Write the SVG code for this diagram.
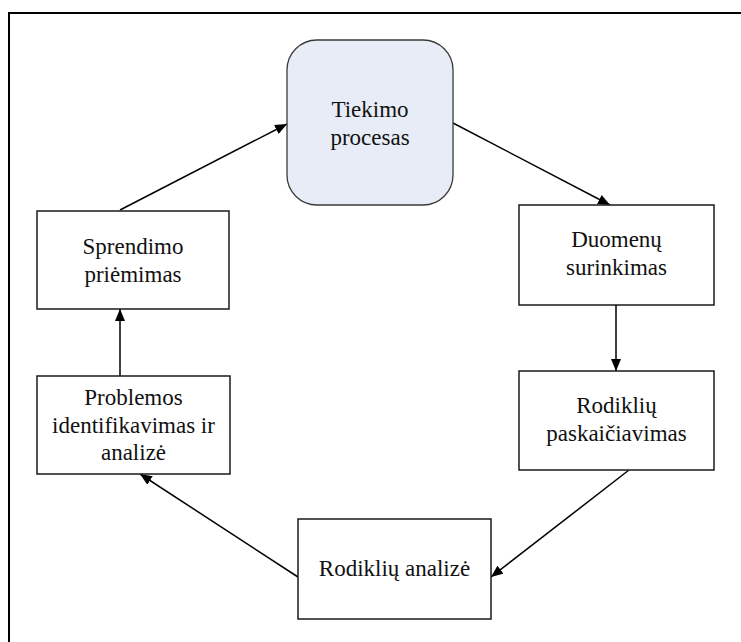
<svg xmlns="http://www.w3.org/2000/svg" width="741" height="642" viewBox="0 0 741 642">
  <style>
    .box { fill: #ffffff; stroke: #1a1a1a; stroke-width: 1.5; }
    .start { fill: #e7ecf7; stroke: #3a3a3a; stroke-width: 1.3; }
    .lbl { font-family: "Liberation Serif", "Times New Roman", serif; font-size: 23px; fill: #111111; text-anchor: middle; }
    .conn { stroke: #000000; stroke-width: 1.5; fill: none; marker-end: url(#arrow); }
  </style>
  <defs>
    <marker id="arrow" viewBox="0 0 12 10" refX="12" refY="5" markerWidth="12" markerHeight="10" markerUnits="userSpaceOnUse" orient="auto">
      <path d="M0,0 L12,5 L0,10 Z" fill="#000000"/>
    </marker>
  </defs>

  <rect width="741" height="642" fill="#ffffff"/>
  <!-- outer frame, open past the right and bottom edges -->
  <rect x="9" y="13" width="780" height="700" fill="none" stroke="#000000" stroke-width="2"/>

  <g id="connectors">
    <line class="conn" x1="120" y1="210" x2="287" y2="124"/>
    <line class="conn" x1="453" y1="123" x2="610" y2="205"/>
    <line class="conn" x1="616" y1="305" x2="616" y2="371"/>
    <line class="conn" x1="629" y1="470" x2="491" y2="577"/>
    <line class="conn" x1="298" y1="577" x2="140" y2="474"/>
    <line class="conn" x1="120" y1="376" x2="120" y2="309"/>
  </g>

  <g id="tiekimo-procesas">
    <rect class="start" x="287" y="40" width="166" height="165" rx="30" ry="30"/>
    <text class="lbl" x="370" y="117">Tiekimo</text>
    <text class="lbl" x="370" y="145">procesas</text>
  </g>

  <g id="duomenu-surinkimas">
    <rect class="box" x="519" y="205" width="195" height="100"/>
    <text class="lbl" x="616.5" y="247">Duomenų</text>
    <text class="lbl" x="616.5" y="275">surinkimas</text>
  </g>

  <g id="rodikliu-paskaiciavimas">
    <rect class="box" x="519" y="371" width="195" height="99"/>
    <text class="lbl" x="616.5" y="413">Rodiklių</text>
    <text class="lbl" x="616.5" y="441">paskaičiavimas</text>
  </g>

  <g id="rodikliu-analize">
    <rect class="box" x="298" y="519" width="193" height="100"/>
    <text class="lbl" x="394.5" y="576">Rodiklių analizė</text>
  </g>

  <g id="problemos-identifikavimas">
    <rect class="box" x="37" y="376" width="193" height="98"/>
    <text class="lbl" x="133.5" y="405">Problemos</text>
    <text class="lbl" x="133.5" y="433">identifikavimas ir</text>
    <text class="lbl" x="133.5" y="460">analizė</text>
  </g>

  <g id="sprendimo-priemimas">
    <rect class="box" x="37" y="211" width="192" height="98"/>
    <text class="lbl" x="133" y="254">Sprendimo</text>
    <text class="lbl" x="133" y="282">priėmimas</text>
  </g>
</svg>
